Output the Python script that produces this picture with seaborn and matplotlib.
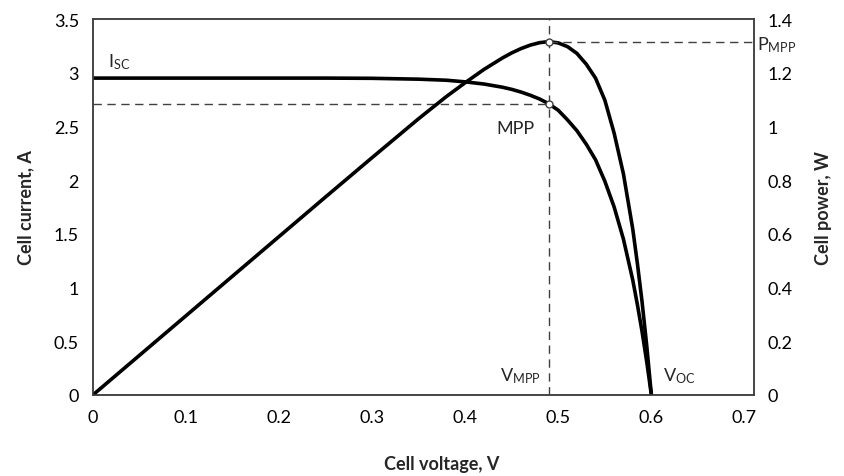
import numpy as np
import pandas as pd
import matplotlib
matplotlib.use("Agg")
import matplotlib.pyplot as plt
import seaborn as sns

# Datos (tension en V, corriente en A, potencia en W)
voltage = [0.0, 0.05, 0.10, 0.15, 0.20, 0.25, 0.30, 0.35, 0.38, 0.40, 0.42, 0.44,
           0.45, 0.46, 0.47, 0.48, 0.49, 0.50, 0.51, 0.52, 0.53, 0.54, 0.55, 0.56,
           0.57, 0.58, 0.585, 0.59, 0.595, 0.60]
current = [2.95, 2.95, 2.95, 2.95, 2.95, 2.95, 2.948, 2.94, 2.93, 2.915, 2.895, 2.865,
           2.845, 2.82, 2.79, 2.755, 2.71, 2.65, 2.56, 2.46, 2.335, 2.19, 1.99, 1.75,
           1.45, 1.07, 0.84, 0.59, 0.31, 0.0]
power = [0.0, 0.1475, 0.295, 0.4425, 0.59, 0.7375, 0.884, 1.029, 1.112, 1.163, 1.212, 1.255,
         1.274, 1.290, 1.303, 1.312, 1.316, 1.311, 1.297, 1.272, 1.232, 1.180, 1.098, 0.975,
         0.823, 0.618, 0.489, 0.347, 0.184, 0.0]

v_mpp = 0.49
i_mpp = 2.71
p_mpp = 1.316

x_ticks = [0, 0.1, 0.2, 0.3, 0.4, 0.5, 0.6, 0.7]
x_labels = ["0", "0.1", "0.2", "0.3", "0.4", "0.5", "0.6", "0.7"]
y_ticks = [0, 0.5, 1, 1.5, 2, 2.5, 3, 3.5]
y_labels = ["0", "0.5", "1", "1.5", "2", "2.5", "3", "3.5"]
y2_ticks = [0, 0.2, 0.4, 0.6, 0.8, 1.0, 1.2, 1.4]
y2_labels = ["0", "0.2", "0.4", "0.6", "0.8", "1", "1.2", "1.4"]

sns.set_style("white")
plt.rcParams['font.family'] = ['Lato', 'DejaVu Sans']
plt.rcParams['mathtext.default'] = 'regular'

df = pd.DataFrame({'V': voltage, 'I': current, 'P': power})

fig = plt.figure(figsize=(8.45, 4.77), dpi=100)
ax = fig.add_axes([0.110, 0.170, 0.782, 0.788])
ax2 = ax.twinx()

dash = (0, (6, 4))
edge = '#404040'

# Curva I-V
sns.lineplot(data=df, x='V', y='I', ax=ax, sort=False, color='black', lw=2.6)
# Lineas auxiliares
ax.plot([0, v_mpp], [i_mpp, i_mpp], ls=dash, color=edge, lw=1.0)
ax.axvline(v_mpp, ls=dash, color=edge, lw=1.0)
ax.plot([v_mpp], [i_mpp], 'o', ms=5, mfc='white', mec=edge, mew=1.0, zorder=5)

# Curva P-V
sns.lineplot(data=df, x='V', y='P', ax=ax2, sort=False, color='black', lw=2.6)
ax2.plot([v_mpp, 0.71], [p_mpp, p_mpp], ls=dash, color=edge, lw=1.0)
ax2.plot([v_mpp], [p_mpp], 'o', ms=5, mfc='white', mec=edge, mew=1.0, zorder=5)

ax.set_xlim(0, 0.71)
ax.set_ylim(0, 3.5)
ax2.set_ylim(0, 1.4)

ax.set_xticks(x_ticks, x_labels)
ax.set_yticks(y_ticks, y_labels)
ax2.set_yticks(y2_ticks, y2_labels)

for a in (ax, ax2):
    a.tick_params(length=0, labelsize=13, pad=10, colors='black')
    for s in a.spines.values():
        s.set_color(edge)
        s.set_linewidth(1.1)

ax.set_xlabel('Cell voltage, V', fontsize=13, fontweight='bold', labelpad=14)
ax.xaxis.set_label_coords(0.528, -0.16)
ax.set_ylabel('Cell current, A', fontsize=13, fontweight='bold', labelpad=14)
ax2.set_ylabel('Cell power, W', fontsize=13, fontweight='bold', rotation=90, labelpad=16)

# Etiquetas
ax.text(0.016, 3.11, r'I$_{SC}$', fontsize=13, va='center', ha='left')
ax.text(0.454, 2.49, 'MPP', fontsize=13, va='center', ha='center')
ax.text(0.459, 0.18, r'V$_{MPP}$', fontsize=13, va='center', ha='center')
ax.text(0.612, 0.18, r'V$_{OC}$', fontsize=13, va='center', ha='left')
ax2.text(0.714, 1.305, r'P$_{MPP}$', fontsize=13, va='center', ha='left', clip_on=False)

plt.savefig('out.png', dpi=100)
